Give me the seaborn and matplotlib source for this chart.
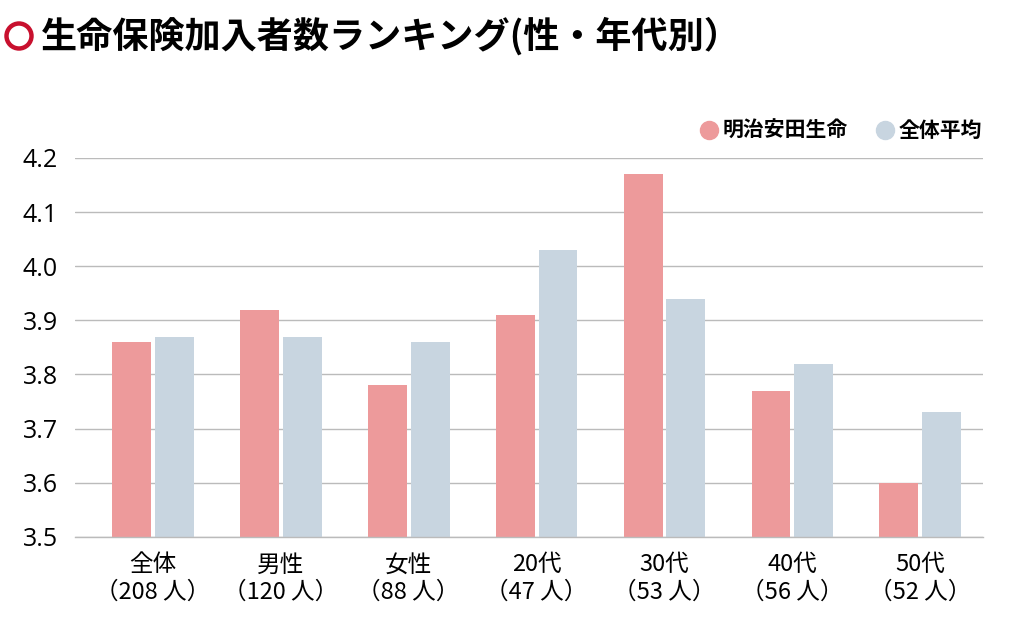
import matplotlib.pyplot as plt
import pandas as pd
import seaborn as sns
from matplotlib.lines import Line2D
from matplotlib.patches import Ellipse

# データ
categories = ['全体\n（208 人）', '男性\n（120 人）', '女性\n（88 人）', '20代\n（47 人）',
              '30代\n（53 人）', '40代\n（56 人）', '50代\n（52 人）']
series = ['明治安田生命', '全体平均']
meiji = [3.86, 3.92, 3.78, 3.91, 4.17, 3.77, 3.60]
avg = [3.87, 3.87, 3.86, 4.03, 3.94, 3.82, 3.73]
yticks = [3.5, 3.6, 3.7, 3.8, 3.9, 4.0, 4.1, 4.2]

colors = ['#ED9A9B', '#C8D5E0']

df = pd.DataFrame({
    'cat': categories * 2,
    'grp': [series[0]] * len(categories) + [series[1]] * len(categories),
    'val': meiji + avg,
})

sns.set_theme(style='white')
plt.rcParams['font.family'] = ['Noto Sans CJK JP', 'DejaVu Sans']
plt.rcParams['text.color'] = 'black'
plt.rcParams['xtick.color'] = 'black'
plt.rcParams['ytick.color'] = 'black'

fig = plt.figure(figsize=(10.24, 6.22), dpi=100)
ax = fig.add_axes([0.073, 0.137, 0.887, 0.609])

sns.barplot(data=df, x='cat', y='val', hue='grp', palette=colors,
            width=0.67, gap=0.09, saturation=1, linewidth=0, ax=ax, legend=False)

ax.set_ylim(3.5, 4.2)
ax.set_xlim(-0.61, 6.49)
ax.set_yticks(yticks)
ax.set_yticklabels([f'{v:.1f}' for v in yticks], fontsize=18, family=['Open Sans', 'DejaVu Sans'])
ax.set_xticks(range(len(categories)))
ax.set_xticklabels(categories, fontsize=17, linespacing=1.25)
ax.tick_params(axis='x', length=0, pad=12)
ax.tick_params(axis='y', length=0, pad=12)
ax.set_xlabel('')
ax.set_ylabel('')
ax.yaxis.grid(True, color='#BBBBBB', linewidth=1)
ax.set_axisbelow(True)
for s in ['top', 'right', 'left']:
    ax.spines[s].set_visible(False)
ax.spines['bottom'].set_color('#BBBBBB')
ax.spines['bottom'].set_linewidth(1)

# 凡例
handles = [Line2D([], [], marker='o', linestyle='', markersize=13, color=c) for c in colors]
ax.legend(handles, series, loc='lower right', bbox_to_anchor=(1.02, 0.995), ncol=2,
          frameon=False, handlelength=1.0, handletextpad=0.15, columnspacing=1.3,
          prop={'weight': 'bold', 'size': 15})

# タイトル
fig.patches.append(Ellipse((19 / 1024, 1 - 36 / 622), 25 / 1024, 25 / 622,
                           transform=fig.transFigure, facecolor='none',
                           edgecolor='#C8102E', linewidth=3.2))
fig.text(0.040, 0.942, '生命保険加入者数ランキング(性・年代別）', fontsize=26,
         fontweight='bold', va='center')

fig.savefig('out.png', dpi=100)
